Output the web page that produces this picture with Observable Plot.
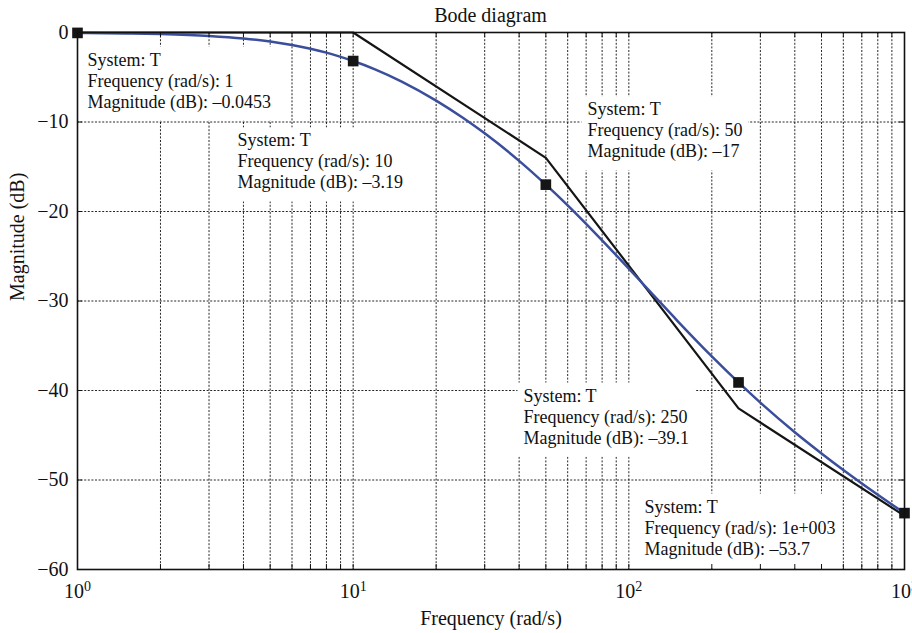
<!DOCTYPE html>
<html>
<head>
<meta charset="utf-8">
<script src="https://cdn.jsdelivr.net/npm/d3@7"></script>
<script src="https://cdn.jsdelivr.net/npm/@observablehq/plot@0.6"></script>
<style>
  html, body { margin: 0; padding: 0; background: #fff; }
  #title { height: 14px; font: 20px "Liberation Serif", serif; line-height: 30px; overflow: visible;
           text-align: center; padding-left: 77px; padding-right: 8px; color: #111; white-space: nowrap; }
  #chart svg { display: block; }
</style>
</head>
<body>
<div id="title">Bode diagram</div>
<div id="chart"></div>
<script>
// ---- data ----
const freq = [1, 1.5, 2, 3, 4, 5, 6, 7, 8, 10, 12, 15, 20, 25, 30, 40, 50, 60, 70, 80,
              100, 120, 150, 200, 250, 300, 400, 500, 600, 700, 800, 1000];
const magnitude = [-0.05, -0.10, -0.18, -0.39, -0.67, -1.01, -1.40, -1.81, -2.25, -3.19,
                   -4.11, -5.48, -7.61, -9.53, -11.27, -14.34, -17.0, -19.31, -21.38, -23.22,
                   -26.39, -29.01, -32.21, -36.19, -39.1, -41.36, -44.66, -47.03, -48.88, -50.38,
                   -51.65, -53.7];
const asymFreq = [1, 10, 50, 250, 1000];
const asymMag = [0, 0, -14, -42, -54];
const tipFreq = [1, 10, 50, 250, 1000];
const tipMag = [-0.0453, -3.19, -17, -39.1, -53.7];
const tipFreqLabel = ["1", "10", "50", "250", "1e+003"];
const tipMagLabel = ["\u20130.0453", "\u20133.19", "\u201317", "\u201339.1", "\u201353.7"];
const xMajorTicks = [1, 10, 100, 1000];
const xMinorTicks = [2, 3, 4, 5, 6, 7, 8, 9, 20, 30, 40, 50, 60, 70, 80, 90, 200, 300, 400, 500, 600, 700, 800, 900];
const yTicks = [-60, -50, -40, -30, -20, -10, 0];

// ---- layout / style ----
const W = 912, H = 619, mT = 18, mB = 64, mL = 77, mR = 8;
const frameH = H - mT - mB, frameW = W - mL - mR, tickLen = 5;
const tipOffsets = [[10, 17.7], [-115.7, 70.5], [41.6, -84.1], [-215.1, 4.2], [-260, -15.5]];
const blue = "#3a4e9c";

const curve = freq.map((f, i) => ({f, m: magnitude[i]}));
const asym = asymFreq.map((f, i) => ({f, m: asymMag[i]}));
const tips = tipFreq.map((f, i) => ({f, m: tipMag[i],
  text: `System: T\nFrequency (rad/s): ${tipFreqLabel[i]}\nMagnitude (dB): ${tipMagLabel[i]}`}));
const allX = xMajorTicks.concat(xMinorTicks);
const gridX = allX.filter(v => v > 1 && v < 1000);
const gridY = yTicks.filter(v => v > -60 && v < 0);

const tipMarks = tips.map((d, i) => Plot.text([d], {
  x: "f", y: "m", text: "text", dx: tipOffsets[i][0], dy: tipOffsets[i][1],
  textAnchor: "start", lineAnchor: "top", lineHeight: 21 / 18, fontSize: 18, fill: "#111"
}));

const plot = Plot.plot({
  width: W, height: H, marginTop: mT, marginBottom: mB, marginLeft: mL, marginRight: mR,
  style: {fontFamily: '"Liberation Serif", serif', fontSize: "20px", color: "#111", background: "transparent"},
  x: {type: "log", domain: [1, 1000]},
  y: {domain: [-60, 0]},
  marks: [
    Plot.ruleX(gridX, {x: d => d, stroke: "#000", strokeWidth: 1, strokeDasharray: "2,1.6", strokeOpacity: 0.85}),
    Plot.ruleY(gridY, {y: d => d, stroke: "#000", strokeWidth: 1, strokeDasharray: "2,1.6", strokeOpacity: 0.85}),
    Plot.line(asym, {x: "f", y: "m", stroke: "#151515", strokeWidth: 2.2}),
    Plot.line(curve, {x: "f", y: "m", stroke: blue, strokeWidth: 2.5, curve: "monotone-x"}),
    Plot.dot(tips, {x: "f", y: "m", symbol: "square", r: 6, fill: "#151515", stroke: "none"}),
    ...tipMarks,
    Plot.ruleX(allX, {x: d => d, insetTop: frameH - tickLen, stroke: "#111", strokeWidth: 1}),
    Plot.ruleX(allX, {x: d => d, insetBottom: frameH - tickLen, stroke: "#111", strokeWidth: 1}),
    Plot.ruleY(yTicks, {y: d => d, insetRight: frameW - tickLen, stroke: "#111", strokeWidth: 1}),
    Plot.ruleY(yTicks, {y: d => d, insetLeft: frameW - tickLen, stroke: "#111", strokeWidth: 1}),
    Plot.frame({stroke: "#111", strokeWidth: 1.6}),
    Plot.axisX({ticks: xMajorTicks, tickSize: 0, tickPadding: 14, label: null,
                tickFormat: d => `10^${Math.round(Math.log10(d))}`}),
    Plot.axisY({ticks: yTicks, tickSize: 0, tickPadding: 9, label: null}),
    Plot.text(["Magnitude (dB)"], {text: d => d, frameAnchor: "left", rotate: -90, dx: -60, fontSize: 20, fill: "#111"}),
    Plot.text(["Frequency (rad/s)"], {text: d => d, frameAnchor: "bottom", lineAnchor: "bottom", dy: 55, fontSize: 20, fill: "#111"})
  ]
});

document.getElementById("chart").append(plot);

// superscript exponents on the x tick labels
d3.select(plot).selectAll('g[aria-label="x-axis tick label"] text').each(function () {
  const s = this.textContent;
  const parts = s.split("^");
  if (parts.length !== 2) return;
  const t = d3.select(this);
  t.text(parts[0]);
  t.append("tspan").attr("dy", "-0.45em").attr("font-size", "0.7em").text(parts[1]);
});

// white datatip backgrounds, placed under the curves
const svgBox = plot.getBoundingClientRect();
const tipTexts = Array.from(plot.querySelectorAll('g[aria-label="text"] text'))
  .filter(t => t.textContent.startsWith("System"));
const bg = d3.select(plot).insert("g", 'g[aria-label="line"]').attr("aria-label", "datatip background");
tipTexts.forEach(t => {
  const b = t.getBoundingClientRect();
  bg.append("rect")
    .attr("x", b.left - svgBox.left - 6)
    .attr("y", b.top - svgBox.top - 3)
    .attr("width", b.width + 12)
    .attr("height", b.height + 11)
    .attr("fill", "#fff");
});
</script>
</body>
</html>
